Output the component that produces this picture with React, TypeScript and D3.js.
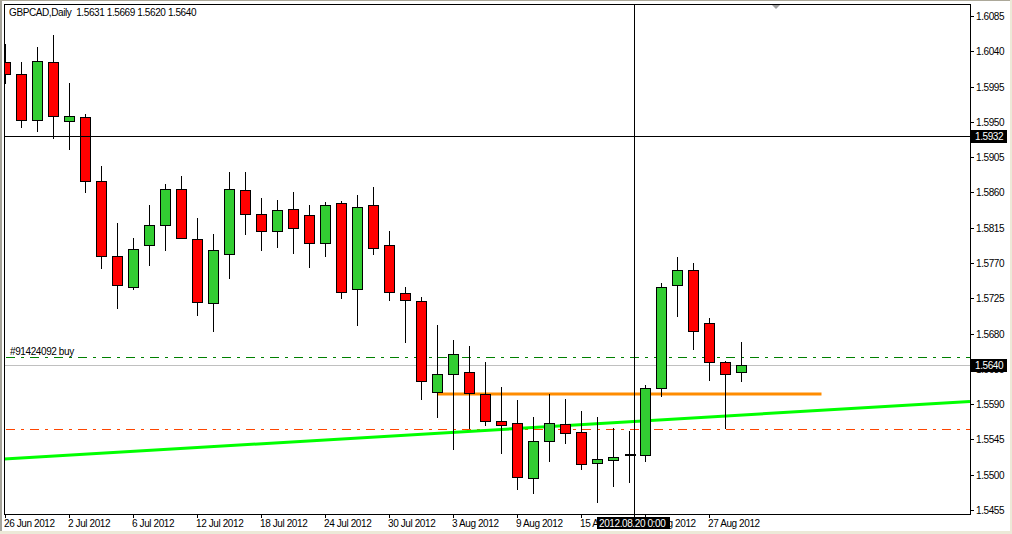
import React from 'react';
import * as d3 from 'd3';

// GBPCAD daily bars, 26 Jun 2012 .. 29 Aug 2012
const dates = [
  '2012-06-26', '2012-06-27', '2012-06-28', '2012-06-29', '2012-07-02', '2012-07-03', '2012-07-04', '2012-07-05',
  '2012-07-06', '2012-07-09', '2012-07-10', '2012-07-11', '2012-07-12', '2012-07-13', '2012-07-16', '2012-07-17',
  '2012-07-18', '2012-07-19', '2012-07-20', '2012-07-23', '2012-07-24', '2012-07-25', '2012-07-26', '2012-07-27',
  '2012-07-30', '2012-07-31', '2012-08-01', '2012-08-02', '2012-08-03', '2012-08-06', '2012-08-07', '2012-08-08',
  '2012-08-09', '2012-08-10', '2012-08-13', '2012-08-14', '2012-08-15', '2012-08-16', '2012-08-17', '2012-08-20',
  '2012-08-21', '2012-08-22', '2012-08-23', '2012-08-24', '2012-08-27', '2012-08-28', '2012-08-29',
];
const opens = [
  1.6026, 1.6011, 1.5953, 1.6026, 1.5951, 1.5956, 1.5874, 1.5779, 1.5740, 1.5793, 1.5819, 1.5865,
  1.5800, 1.5719, 1.5782, 1.5863, 1.5832, 1.5811, 1.5839, 1.5831, 1.5795, 1.5846, 1.5737, 1.5844,
  1.5793, 1.5732, 1.5721, 1.5605, 1.5628, 1.5631, 1.5603, 1.5568, 1.5566, 1.5496, 1.5543, 1.5565,
  1.5554, 1.5515, 1.5519, 1.5527, 1.5525, 1.5610, 1.5742, 1.5761, 1.5693, 1.5644, 1.5631,
];
const highs = [
  1.6049, 1.6026, 1.6045, 1.6061, 1.6000, 1.5960, 1.5894, 1.5821, 1.5802, 1.5844, 1.5871, 1.5881,
  1.5828, 1.5807, 1.5886, 1.5886, 1.5853, 1.5850, 1.5861, 1.5844, 1.5848, 1.5849, 1.5857, 1.5867,
  1.5811, 1.5740, 1.5727, 1.5691, 1.5672, 1.5664, 1.5644, 1.5612, 1.5595, 1.5574, 1.5603, 1.5597,
  1.5581, 1.5574, 1.5559, 1.5556, 1.5615, 1.5744, 1.5778, 1.5770, 1.5700, 1.5645, 1.5669,
];
const lows = [
  1.6000, 1.5944, 1.5938, 1.5929, 1.5916, 1.5860, 1.5764, 1.5712, 1.5737, 1.5767, 1.5786, 1.5802,
  1.5704, 1.5683, 1.5751, 1.5807, 1.5786, 1.5791, 1.5783, 1.5765, 1.5779, 1.5726, 1.5691, 1.5781,
  1.5723, 1.5669, 1.5597, 1.5573, 1.5533, 1.5560, 1.5564, 1.5528, 1.5482, 1.5477, 1.5518, 1.5541,
  1.5507, 1.5465, 1.5486, 1.5491, 1.5518, 1.5601, 1.5703, 1.5660, 1.5621, 1.5560, 1.5620,
];
const closes = [
  1.6011, 1.5952, 1.6027, 1.5957, 1.5957, 1.5874, 1.5779, 1.5742, 1.5788, 1.5818, 1.5865, 1.5802,
  1.5720, 1.5786, 1.5864, 1.5833, 1.5811, 1.5837, 1.5814, 1.5795, 1.5844, 1.5733, 1.5842, 1.5789,
  1.5733, 1.5723, 1.5619, 1.5628, 1.5654, 1.5604, 1.5568, 1.5563, 1.5497, 1.5543, 1.5566, 1.5553,
  1.5514, 1.5520, 1.5522, 1.5527, 1.5610, 1.5740, 1.5761, 1.5683, 1.5644, 1.5628, 1.5640,
];

const priceTicks = [
  1.6085, 1.6040, 1.5995, 1.5950, 1.5905, 1.5860, 1.5815, 1.5770, 1.5725, 1.5680, 1.5635, 1.5590,
  1.5545, 1.5500, 1.5455,
];
const timeTickBars = [0, 4, 8, 12, 16, 20, 24, 28, 32, 36, 40, 44];

const title = 'GBPCAD,Daily';
const bidPrice = 1.5640;
const orderPrice = 1.5650;
const orderLabel = '#91424092 buy';
const stopPrice = 1.5558;
const levelBars = [27, 51];
const levelPrice = 1.5603;
const trendBars = [0, 46];
const trendPrices = [1.5520, 1.5576];
const crossPrice = 1.5932;
const crossBar = 39.3;
const crossLabel = '2012.08.20 0:00';

const W = 1012;
const H = 534;
const plot = { left: 4, top: 4, right: 970, bottom: 514 };
const font = { fontFamily: '"Liberation Sans", Arial, sans-serif', fontSize: 10, letterSpacing: -0.4 };

const bull = '#32CD32';
const bear = '#FF0000';

export default function App() {
  const x = d3.scaleLinear().domain([0, 46]).range([5, 741]);
  const y = d3.scaleLinear().domain([1.5455, 1.6085]).range([510, 16]);
  const cx = (i: number) => Math.round(x(i)) + 0.5;
  const py = (p: number) => Math.round(y(p)) + 0.5;
  const fmtDate = d3.timeFormat('%-d %b %Y');
  const parse = d3.timeParse('%Y-%m-%d');

  // trend line extended to plot edges
  const slope = (trendPrices[1] - trendPrices[0]) / (trendBars[1] - trendBars[0]);
  const b0 = x.invert(plot.left);
  const b1 = x.invert(plot.right);
  const trendAt = (b: number) => trendPrices[0] + slope * (b - trendBars[0]);
  const trendLine = d3.line<[number, number]>()
    .x(d => x(d[0]))
    .y(d => y(d[1]));

  const ohlc = `${opens[46].toFixed(4)} ${highs[46].toFixed(4)} ${lows[46].toFixed(4)} ${closes[46].toFixed(4)}`;

  return (
    <svg width={W} height={H} style={{ position: 'absolute', left: 0, top: 0, display: 'block' }}>
      <defs>
        <clipPath id="plotClip">
          <rect x={plot.left} y={plot.top} width={plot.right - plot.left} height={plot.bottom - plot.top} />
        </clipPath>
      </defs>
      <rect x={0} y={0} width={W} height={H} fill="#ffffff" />
      {/* window frame */}
      <rect x={0} y={0} width={2} height={H} fill="#A7A59B" />
      <rect x={0} y={0} width={W} height={1} fill="#ACA899" />
      <rect x={W - 2} y={0} width={2} height={H} fill="#ECE9D8" />
      <rect x={0} y={531} width={W} height={3} fill="#ECE9D8" />

      <g clipPath="url(#plotClip)">
        {/* horizontal lines */}
        <line x1={plot.left} x2={plot.right} y1={py(bidPrice)} y2={py(bidPrice)} stroke="#C0C0C0" strokeWidth={1} />
        <line x1={plot.left + 2} x2={plot.right} y1={py(orderPrice)} y2={py(orderPrice)} stroke="#008000" strokeWidth={1} strokeDasharray="9,6,3,6" />
        <line x1={plot.left + 2} x2={plot.right} y1={py(stopPrice)} y2={py(stopPrice)} stroke="#FF4500" strokeWidth={1} strokeDasharray="9,6,3,6" />
        <text x={10} y={355} {...font} fill="#000">{orderLabel}</text>

        {/* trend line and level */}
        <path d={trendLine([[b0, trendAt(b0)], [b1, trendAt(b1)]]) || ''} stroke="#00FF00" strokeWidth={3} fill="none" />
        <line x1={cx(levelBars[0])} x2={cx(levelBars[1])} y1={y(levelPrice)} y2={y(levelPrice)} stroke="#FF8C00" strokeWidth={3} />

        {/* candles */}
        <g shapeRendering="crispEdges">
          {opens.map((o, i) => {
            const c = closes[i];
            const X = cx(i);
            const top = Math.round(y(Math.max(o, c))) + 0.5;
            const bot = Math.round(y(Math.min(o, c))) + 0.5;
            return (
              <g key={dates[i]}>
                <line x1={X} x2={X} y1={Math.round(y(highs[i]))} y2={Math.round(y(lows[i])) + 1} stroke="#000" strokeWidth={1} />
                {o === c ? (
                  <line x1={X - 5} x2={X + 6} y1={top} y2={top} stroke="#000" strokeWidth={2} />
                ) : (
                  <rect x={X - 5} y={top} width={10} height={Math.max(bot - top, 1)} fill={c > o ? bull : bear} stroke="#000" strokeWidth={1} />
                )}
              </g>
            );
          })}
        </g>

        {/* crosshair */}
        <line x1={plot.left} x2={plot.right} y1={py(crossPrice)} y2={py(crossPrice)} stroke="#000" strokeWidth={1} />
        <polygon points="771,4 781,4 776,9" fill="#A0A0A0" />
        <text x={9} y={16} {...font} fill="#000" xmlSpace="preserve">{`${title}  ${ohlc}`}</text>
      </g>
      <line x1={Math.round(x(crossBar)) + 0.5} x2={Math.round(x(crossBar)) + 0.5} y1={plot.top} y2={518} stroke="#000" strokeWidth={1} />

      {/* frame */}
      <rect x={plot.left + 0.5} y={plot.top + 0.5} width={plot.right - plot.left} height={plot.bottom - plot.top} fill="none" stroke="#000" strokeWidth={1} />

      {/* price axis */}
      {priceTicks.map(p => (
        <g key={p}>
          <line x1={plot.right + 0.5} x2={plot.right + 4} y1={py(p)} y2={py(p)} stroke="#000" strokeWidth={1} />
          <text x={976} y={y(p) + 4} {...font} fill="#000">{p.toFixed(4)}</text>
        </g>
      ))}
      {[bidPrice, crossPrice].map(p => (
        <g key={'lbl' + p}>
          <rect x={971} y={Math.round(y(p)) - 6} width={36} height={13} fill="#000" />
          <text x={975} y={y(p) + 4} {...font} fill="#fff">{p.toFixed(4)}</text>
        </g>
      ))}

      {/* time axis */}
      {timeTickBars.map(i => (
        <g key={'t' + i}>
          <line x1={cx(i)} x2={cx(i)} y1={plot.bottom} y2={518} stroke="#000" strokeWidth={1} />
          <text x={cx(i) - 1.5} y={527} {...font} fill="#000">{fmtDate(parse(dates[i]) as Date)}</text>
        </g>
      ))}
      <rect x={597} y={517} width={73} height={12} fill="#000" />
      <text x={599} y={527} {...font} fill="#fff">{crossLabel}</text>
    </svg>
  );
}
